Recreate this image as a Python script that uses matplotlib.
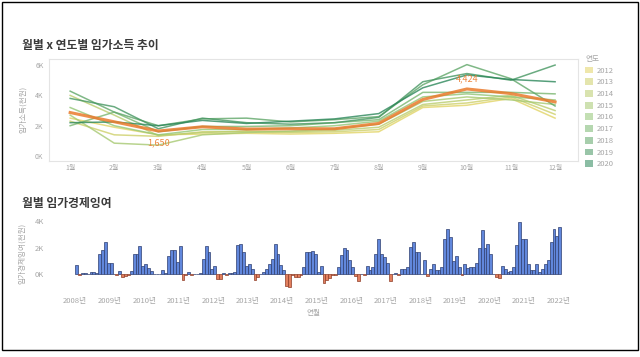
import matplotlib.pyplot as plt
from matplotlib.patches import Patch, Rectangle
from matplotlib.colors import LinearSegmentedColormap

plt.rcParams['font.family'] = ['Noto Sans CJK KR', 'DejaVu Sans']

# 월별 x 연도별 임가소득 (천원 단위 / 1000)
month_nums = list(range(1, 13))
month_labels = [f"{m}월" for m in month_nums]
years = [2012, 2013, 2014, 2015, 2016, 2017, 2018, 2019, 2020]

inc_2012 = [2.5, 1.9, 1.4, 1.45, 1.5, 1.45, 1.5, 1.6, 3.2, 3.35, 3.8, 2.5]
inc_2013 = [2.3, 1.4, 1.3, 1.6, 1.6, 1.55, 1.6, 1.75, 3.3, 3.5, 3.9, 2.75]
inc_2014 = [4.0, 2.7, 1.35, 1.55, 1.65, 1.6, 1.7, 1.9, 3.4, 3.7, 4.0, 3.0]
inc_2015 = [2.7, 0.85, 0.72, 1.4, 1.55, 1.65, 1.8, 2.1, 3.6, 3.9, 3.7, 3.4]
inc_2016 = [3.2, 2.0, 1.4, 1.75, 1.75, 1.85, 2.0, 2.3, 3.9, 4.1, 3.9, 3.7]
inc_2017 = [2.0, 2.9, 1.6, 1.95, 1.95, 2.0, 2.2, 2.4, 4.2, 4.2, 4.2, 4.1]
inc_2018 = [4.28, 2.9, 2.0, 2.45, 2.5, 2.25, 2.4, 2.6, 4.7, 6.03, 5.1, 3.3]
inc_2019 = [3.8, 3.25, 1.8, 2.5, 2.2, 2.1, 2.2, 2.55, 4.9, 5.44, 5.0, 6.0]
inc_2020 = [2.2, 2.25, 2.0, 2.35, 2.15, 2.3, 2.45, 2.8, 4.5, 5.35, 5.05, 4.9]
inc_avg = [2.87, 2.26, 1.65, 1.93, 1.78, 1.8, 1.8, 2.15, 3.73, 4.424, 4.12, 3.57]

year_series = [inc_2012, inc_2013, inc_2014, inc_2015, inc_2016,
               inc_2017, inc_2018, inc_2019, inc_2020]

# 월별 임가경제잉여 (2008-01 ~ 2022-01)
surplus_start = 2008
sur_2008 = [0.7, -0.1, 0.05, 0.05, 0.0, 0.15, 0.15, 0.05, 1.5, 1.85, 2.4, 0.8]
sur_2009 = [0.85, 0.0, -0.05, 0.2, -0.25, -0.15, -0.05, 0.2, 1.5, 1.5, 2.1, 0.6]
sur_2010 = [0.75, 0.45, 0.2, 0.0, 0.0, 0.0, 0.3, 0.05, 1.4, 1.85, 1.8, 0.95]
sur_2011 = [2.1, -0.45, -0.05, 0.15, -0.1, 0.0, 0.0, 0.1, 1.15, 2.15, 1.7, 0.35]
sur_2012 = [0.6, -0.4, -0.35, 0.1, -0.1, 0.05, 0.1, 0.15, 2.2, 2.3, 1.65, 0.6]
sur_2013 = [0.75, 0.35, -0.45, -0.25, 0.0, 0.15, 0.4, 0.75, 1.15, 2.3, 1.5, 0.65]
sur_2014 = [0.3, -0.9, -0.95, -0.05, -0.2, -0.2, -0.1, 0.5, 1.65, 1.65, 1.75, 1.55]
sur_2015 = [0.15, 0.6, -0.7, -0.45, -0.3, -0.1, -0.05, 0.55, 1.45, 2.0, 1.85, 1.1]
sur_2016 = [0.55, -0.15, -0.55, 0.0, -0.1, 0.6, 0.3, 0.55, 1.5, 2.65, 1.5, 1.3]
sur_2017 = [0.85, -0.5, 0.0, 0.05, -0.05, 0.4, 0.35, 0.5, 2.05, 2.45, 1.7, 1.65]
sur_2018 = [0.0, 1.05, -0.15, 0.35, 0.75, 0.3, 0.3, 0.55, 2.65, 3.45, 2.8, 1.0]
sur_2019 = [1.35, 0.5, -0.05, 0.75, 0.45, 0.55, 0.5, 0.8, 2.0, 3.35, 2.0, 2.25]
sur_2020 = [1.55, 0.0, -0.2, -0.3, 0.6, 0.4, 0.15, 0.25, 0.55, 2.2, 3.95, 2.65]
sur_2021 = [2.65, 0.75, 0.3, 0.3, 0.75, 0.15, 0.35, 0.75, 1.1, 2.4, 3.45, 2.9]
sur_2022 = [3.6]

surplus = (sur_2008 + sur_2009 + sur_2010 + sur_2011 + sur_2012 + sur_2013 + sur_2014
           + sur_2015 + sur_2016 + sur_2017 + sur_2018 + sur_2019 + sur_2020
           + sur_2021 + sur_2022)
year_ticks = list(range(2008, 2023))
year_tick_labels = [f"{y}년" for y in year_ticks]

gray = '#a6a6a6'
fig = plt.figure(figsize=(6.4, 3.57), dpi=100)

# ---- 위쪽 차트
ax1 = fig.add_axes([49 / 640, 1 - 160.6 / 357, 529 / 640, 101.6 / 357])
cmap = LinearSegmentedColormap.from_list('yg', ['#e2d466', '#93c676', '#2c875a'])
handles = []
for i, (yr, vals) in enumerate(zip(years, year_series)):
    c = cmap(i / (len(years) - 1))
    ax1.plot(month_nums, vals, color=c, lw=1.1, alpha=0.8)
    handles.append(Patch(facecolor=c, alpha=0.55, edgecolor='none', label=str(yr)))

orange = '#ea7a2c'
ax1.plot(month_nums, inc_avg, color=orange, lw=2.2, alpha=0.85, zorder=5)
i_min = inc_avg.index(min(inc_avg))
i_max = inc_avg.index(max(inc_avg))
ax1.annotate(f"{round(inc_avg[i_min] * 1000):,}", (month_nums[i_min], inc_avg[i_min]),
             xytext=(0, -5), textcoords='offset points', ha='center', va='top',
             color=orange, fontsize=6.5, alpha=0.9)
ax1.annotate(f"{round(inc_avg[i_max] * 1000):,}", (month_nums[i_max], inc_avg[i_max]),
             xytext=(0, 4), textcoords='offset points', ha='center', va='bottom',
             color=orange, fontsize=6.5, alpha=0.9)

ax1.set_xlim(0.52, 12.52)
ax1.set_ylim(-0.3, 6.4)
ax1.set_xticks(month_nums)
ax1.set_xticklabels(month_labels)
ax1.set_yticks([0, 2, 4, 6])
ax1.set_yticklabels(['0K', '2K', '4K', '6K'])
ax1.tick_params(length=0, labelsize=5, labelcolor=gray, pad=4)
ax1.tick_params(axis='x', pad=2.5)
for s in ax1.spines.values():
    s.set_color('#e4e4e4')
    s.set_linewidth(0.8)
ax1.set_ylabel('임가소득(천원)', fontsize=5.5, color=gray, labelpad=6)

leg = ax1.legend(handles=handles, title='연도', loc='upper left',
                 bbox_to_anchor=(1.008, 1.07), frameon=False, fontsize=5.5,
                 title_fontsize=5.5, handlelength=1.0, handleheight=1.0,
                 labelspacing=0.48, handletextpad=0.5, borderaxespad=0)
leg._legend_box.align = 'left'
for t in leg.get_texts():
    t.set_color(gray)
leg.get_title().set_color(gray)

fig.text(22 / 640, 1 - 46 / 357, '월별 x 연도별 임가소득 추이', fontsize=8.5,
         fontweight='bold', color='#3a3a3a', va='center')

# ---- 아래쪽 차트
ax2 = fig.add_axes([49 / 640, 1 - 292 / 357, 529 / 640, 78 / 357])
xs = [surplus_start + i / 12 for i in range(len(surplus))]
colors = ['#6187dc' if v >= 0 else '#e27f5e' for v in surplus]
edges = ['#2f3f70' if v >= 0 else '#8e3e28' for v in surplus]
ax2.bar(xs, surplus, width=1 / 12, align='edge', color=colors, edgecolor=edges,
        linewidth=0.5)
ax2.set_xlim(2007.24, 2022.57)
ax2.set_ylim(-1.36, 4.55)
ax2.set_xticks(year_ticks)
ax2.set_xticklabels(year_tick_labels)
ax2.set_yticks([0, 2, 4])
ax2.set_yticklabels(['0K', '2K', '4K'])
ax2.tick_params(length=0, labelsize=5.5, labelcolor=gray)
ax2.tick_params(axis='x', pad=3.5)
for s in ax2.spines.values():
    s.set_visible(False)
ax2.set_ylabel('임가경제잉여(천원)', fontsize=5.5, color=gray, labelpad=6)
ax2.set_xlabel('연월', fontsize=5.5, color=gray, labelpad=3)

fig.text(22 / 640, 1 - 203 / 357, '월별 임가경제잉여', fontsize=8.5,
         fontweight='bold', color='#3a3a3a', va='center')

fig.patches.append(Rectangle((1.5 / 640, 1 - 350 / 357), 636.5 / 640, 348 / 357,
                             transform=fig.transFigure, fill=False,
                             edgecolor='black', linewidth=1))

fig.savefig('out.png', dpi=100)
